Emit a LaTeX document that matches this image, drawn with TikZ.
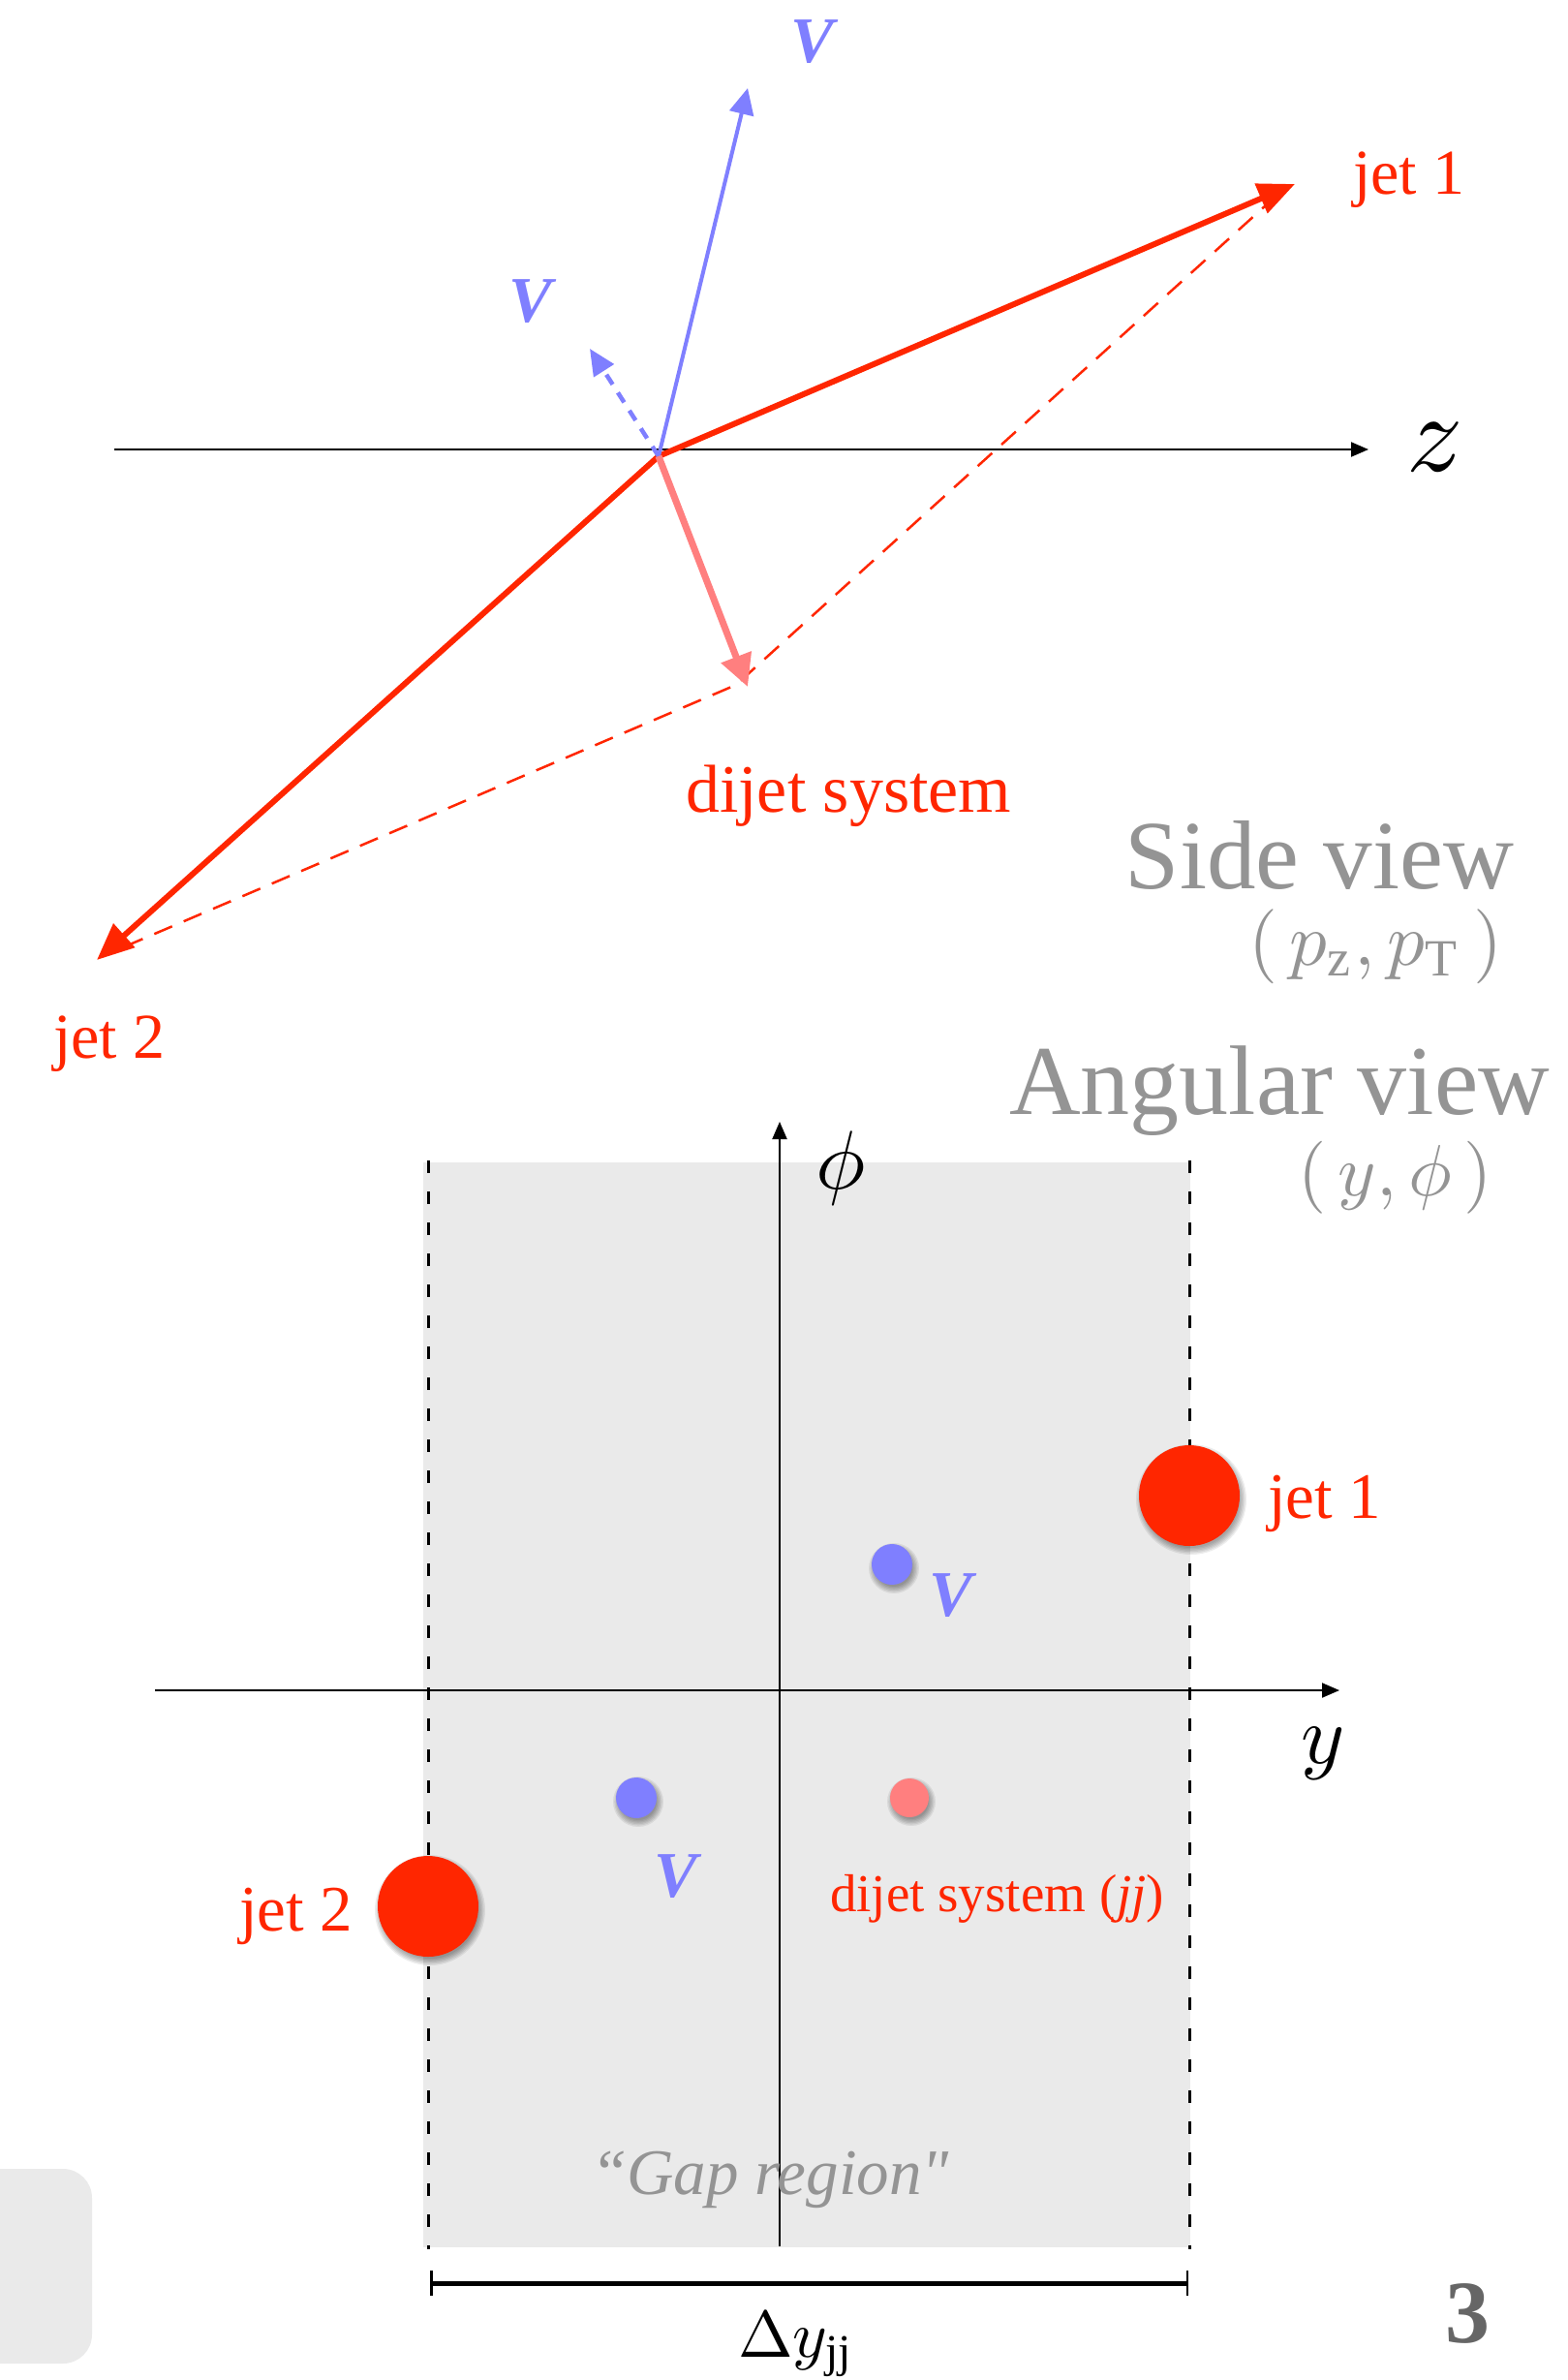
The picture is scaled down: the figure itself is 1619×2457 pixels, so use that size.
\documentclass[tikz,border=0pt]{standalone}
\usepackage{fontspec}
\setmainfont{Liberation Serif}
\usetikzlibrary{arrows.meta}
\definecolor{jred}{HTML}{FF2600}
\definecolor{jpink}{HTML}{FF7F7F}
\definecolor{vblue}{HTML}{7F7FFF}
\definecolor{tgray}{HTML}{949494}
\definecolor{boxgray}{HTML}{EAEAEA}
\definecolor{numgray}{HTML}{666666}
\newcommand\fsz[1]{\fontsize{#1}{#1}\selectfont}
\newcommand\softshade[3]{%
  \foreach \k in {0,...,5}{\fill[black,opacity=0.07] (#1+2,#2+4) circle[radius={(#3+5-1.4*\k)*1pt}];}}
\begin{document}
\begin{tikzpicture}[x=1pt,y=-1pt,
  axisline/.style={draw=black,line width=2pt,-{Triangle[length=18pt,width=15pt]}},
  jetline/.style={draw=jred,line width=6pt,-{Triangle[length=38pt,width=32pt]}},
  jjline/.style={draw=jpink,line width=7pt,-{Triangle[length=33pt,width=32pt]}},
  vline/.style={draw=vblue,line width=4pt,-{Triangle[length=27pt,width=25pt]}},
  vdash/.style={draw=vblue,line width=4.5pt,dash pattern=on 12pt off 10pt,-{Triangle[length=27pt,width=24pt]}},
  sumdash/.style={draw=jred,line width=2.5pt,dash pattern=on 20pt off 13pt},
  edgedash/.style={draw=black,line width=3pt,dash pattern=on 13pt off 19pt},
  lbl/.style={inner sep=0pt,outer sep=0pt},
  dot/.style={circle,inner sep=0pt,outer sep=0pt},
]
\useasboundingbox (0,0) rectangle (1619,2457);

% ---------- Side view ----------
\coordinate (O) at (680,471);
\coordinate (zs) at (118,464);
\coordinate (ze) at (1413,464);
\coordinate (J1) at (1337,190);
\coordinate (J2) at (100,991);
\coordinate (JJ) at (772,709);
\coordinate (S) at (760,707);
\coordinate (V1) at (772,91);
\coordinate (V2) at (609,360);

\draw[axisline] (zs) -- (ze);
\node[lbl] (zlab) at (1482,462) {\scalebox{11.5}{$z$}};

\draw[sumdash] (1318,202) -- (S) -- (106,987);
\draw[jetline] (O) -- (J1);
\draw[jetline] (O) -- (J2);
\draw[vline] (O) -- (V1);
\draw[vdash] (O) -- (V2);
\draw[jjline] (O) -- (JJ);

\node[lbl,anchor=base west,text=jred] (jet1a) at (1397,200) {\fsz{66}jet 1};
\node[lbl,anchor=base west,text=jred] (jet2a) at (55,1092) {\fsz{66}jet 2};
\node[lbl,anchor=base west,text=jred] (dja) at (708,838) {\fsz{70}dijet system};
\node[lbl,text=vblue] (v1a) at (839,43) {\fsz{67}\bfseries\itshape V};
\node[lbl,text=vblue] (v2a) at (548,311) {\fsz{67}\bfseries\itshape V};

\node[lbl,anchor=base east,text=tgray] (side) at (1563,917) {\fsz{101}Side view};
\node[lbl,anchor=base east,text=tgray] (sidec) at (1551,996) {\scalebox{7.7}{$(\,p_{\mathrm{z}},p_{\mathrm{T}}\,)$}};
\node[lbl,anchor=base east,text=tgray] (ang) at (1600,1150) {\fsz{102}Angular view};
\node[lbl,anchor=base east,text=tgray] (angc) at (1541,1234) {\scalebox{7.5}{$(\,y,\phi\,)$}};

% ---------- Angular view ----------
\fill[boxgray] (437,1200) rectangle (1229,2320);
\fill[boxgray,rounded corners=30pt] (-40,2239) rectangle (95,2440);

\coordinate (L1) at (442,1198);
\coordinate (L2) at (442,2322);
\coordinate (R1) at (1228,1198);
\coordinate (R2) at (1228,2322);
\draw[edgedash] (L1) -- (L2);
\draw[edgedash] (R1) -- (R2);

\coordinate (ps) at (805,2319);
\coordinate (pe) at (805,1158);
\coordinate (ys) at (160,1745);
\coordinate (ye) at (1383,1745);
\draw[axisline] (ps) -- (pe);
\draw[axisline] (ys) -- (ye);
\node[lbl] (phil) at (868,1206) {\scalebox{8.6}{$\phi$}};
\node[lbl] (yl) at (1366,1810) {\scalebox{8.6}{$y$}};

\softshade{1228}{1544}{52}
\softshade{442}{1968}{52}
\softshade{921}{1615}{21}
\softshade{657}{1856}{21}
\softshade{939}{1856}{20}
\node[dot,fill=jred,minimum size=104pt] (d1) at (1228,1544) {};
\node[dot,fill=jred,minimum size=104pt] (d2) at (442,1968) {};
\node[dot,fill=vblue,minimum size=42pt] (dv1) at (921,1615) {};
\node[dot,fill=vblue,minimum size=42pt] (dv2) at (657,1856) {};
\node[dot,fill=jpink,minimum size=40pt] (djj) at (939,1856) {};

\node[lbl,anchor=base west,text=jred] (jet1b) at (1309,1567) {\fsz{67}jet 1};
\node[lbl,anchor=base west,text=jred] (jet2b) at (247,1993) {\fsz{67}jet 2};
\node[lbl,text=vblue] (v1b) at (982,1647) {\fsz{67}\bfseries\itshape V};
\node[lbl,text=vblue] (v2b) at (698,1937) {\fsz{67}\bfseries\itshape V};
\node[lbl,anchor=base west,text=jred] (djb) at (857,1973) {\fsz{55}dijet system (\textit{jj})};

\node[lbl,anchor=base,text=tgray] (gap) at (795,2265) {\fsz{67}\itshape “Gap region\textquotedbl};

\coordinate (B1) at (444,2357);
\coordinate (B2) at (1227,2357);
\draw[line width=5pt,{Bar[width=26pt,line width=2.5pt]}-{Bar[width=26pt,line width=2.5pt]}] (B1) -- (B2);
\node[lbl,anchor=base west] (dy) at (762,2433) {\scalebox{6.8}{$\Delta y_{\mathrm{jj}}$}};
\node[lbl,text=numgray] (pg) at (1515,2388) {\fsz{92}\bfseries 3};
\end{tikzpicture}
\end{document}
